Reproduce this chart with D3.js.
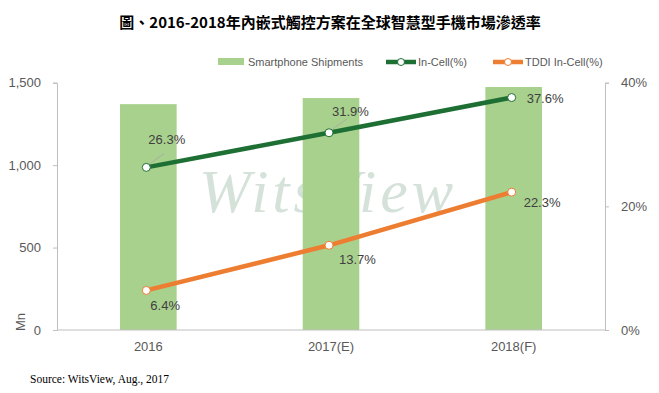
<!DOCTYPE html>
<html><head><meta charset="utf-8">
<script src="https://cdn.jsdelivr.net/npm/d3@7"></script>
<style>body{margin:0;background:#fff}</style>
</head><body>
<svg id="c" width="659" height="393"></svg>
<script>
const categories = ["2016", "2017(E)", "2018(F)"];
const shipments = [1370, 1407, 1474];
const inCell = [26.3, 31.9, 37.6];
const tddi = [6.4, 13.7, 22.3];
const leftTicks = [0, 500, 1000, 1500];
const rightTicks = [0, 20, 40];

const svg = d3.select("#c");
const m = {l: 57, r: 605, t: 82.7, b: 330};
const x = d3.scaleBand().domain(categories).range([m.l, m.r]).paddingInner(0.69).paddingOuter(0.345);
const yL = d3.scaleLinear().domain([0, 1500]).range([m.b, m.t]);
const yR = d3.scaleLinear().domain([0, 40]).range([m.b, m.t]);
const gridCol = "#bfbfbf", txtCol = "#595959";

// title
svg.append("text").attr("x", 330).attr("y", 28).attr("text-anchor", "middle")
  .attr("font-family", "Noto Sans CJK TC").attr("font-weight", "bold").attr("font-size", 15)
  .attr("fill", "#000").text("圖、2016-2018年內嵌式觸控方案在全球智慧型手機市場滲透率");

// watermark
svg.append("text").attr("x", 328).attr("y", 212).attr("text-anchor", "middle")
  .attr("font-family", "Liberation Serif").attr("font-style", "italic").attr("font-size", 62)
  .attr("letter-spacing", 4).attr("fill", "#b9cfc0").attr("opacity", 0.6).text("WitsView");

// bars
svg.append("g").selectAll("rect").data(categories).join("rect")
  .attr("x", d => x(d)).attr("width", x.bandwidth())
  .attr("y", (d, i) => yL(shipments[i])).attr("height", (d, i) => m.b - yL(shipments[i]))
  .attr("fill", "#a9d18e");

// axes
const axL = svg.append("g").attr("transform", `translate(${m.l},0)`)
  .call(d3.axisLeft(yL).tickValues(leftTicks).tickSize(4).tickPadding(12).tickFormat(d3.format(",")));
const axR = svg.append("g").attr("transform", `translate(${m.r},0)`)
  .call(d3.axisRight(yR).tickValues(rightTicks).tickSize(4).tickPadding(12).tickFormat(d => d + "%"));
const axB = svg.append("g").attr("transform", `translate(0,${m.b})`)
  .call(d3.axisBottom(x).tickSize(0).tickPadding(12));
[axL, axR, axB].forEach(a => {
  a.selectAll("path,line").attr("stroke", gridCol);
  a.selectAll("text").attr("fill", txtCol).attr("font-family", "Liberation Sans").attr("font-size", 13);
});
axB.select("path").attr("d", `M${m.l},0H${m.r}`);

svg.append("text").attr("transform", "translate(25,322) rotate(-90)").attr("text-anchor", "middle")
  .attr("font-family", "Liberation Sans").attr("font-size", 13).attr("fill", txtCol).text("Mn");

// lines
const cx = d => x(d) + x.bandwidth() / 2 - 2;
function drawLine(vals, color, labelPos, leaders) {
  const line = d3.line().x((d, i) => cx(categories[i])).y(d => yR(d));
  svg.append("g").selectAll("line").data(vals).join("line")
    .filter((d, i) => leaders[i])
    .attr("x1", (d, i) => cx(categories[i]) + 4).attr("y1", d => yR(d) - 4)
    .attr("x2", (d, i) => cx(categories[i]) + 18).attr("y2", d => yR(d) - 14)
    .attr("stroke", "#a6a6a6").attr("stroke-width", 0.8);
  svg.append("path").datum(vals).attr("d", line).attr("fill", "none")
    .attr("stroke", color).attr("stroke-width", 4.5);
  svg.append("g").selectAll("circle").data(vals).join("circle")
    .attr("cx", (d, i) => cx(categories[i])).attr("cy", d => yR(d)).attr("r", 4)
    .attr("fill", "#fff").attr("stroke", color).attr("stroke-width", 1);
  svg.append("g").selectAll("text").data(vals).join("text")
    .attr("x", (d, i) => cx(categories[i]) + labelPos[i][0])
    .attr("y", (d, i) => yR(d) + labelPos[i][1])
    .attr("font-family", "Liberation Sans").attr("font-size", 13).attr("fill", "#404040")
    .text(d => d.toFixed(1) + "%");
}
drawLine(inCell, "#1e6f34", [[2, -23], [3, -17], [15, 5]], [true, true, false]);
drawLine(tddi, "#ed7d31", [[4, 20], [10, 19], [12, 15]], [false, false, false]);

// legend
const lg = svg.append("g").attr("font-family", "Liberation Sans").attr("font-size", 11).attr("fill", txtCol);
lg.append("rect").attr("x", 218).attr("y", 58).attr("width", 26).attr("height", 7).attr("fill", "#a9d18e");
lg.append("text").attr("x", 248).attr("y", 66).attr("fill", txtCol).text("Smartphone Shipments");
[[386, "#1e6f34", "In-Cell(%)"], [493, "#ed7d31", "TDDI In-Cell(%)"]].forEach(([lx, c, t]) => {
  lg.append("line").attr("x1", lx).attr("x2", lx + 30).attr("y1", 62).attr("y2", 62).attr("stroke", c).attr("stroke-width", 4.5);
  lg.append("circle").attr("cx", lx + 15).attr("cy", 62).attr("r", 3.5).attr("fill", "#fff").attr("stroke", c);
  lg.append("text").attr("x", lx + 32).attr("y", 66).attr("fill", txtCol).text(t);
});

// source
svg.append("text").attr("x", 30).attr("y", 383).attr("font-family", "Liberation Serif").attr("font-size", 11.5)
  .attr("fill", "#000").text("Source: WitsView, Aug., 2017");
</script>
</body></html>
